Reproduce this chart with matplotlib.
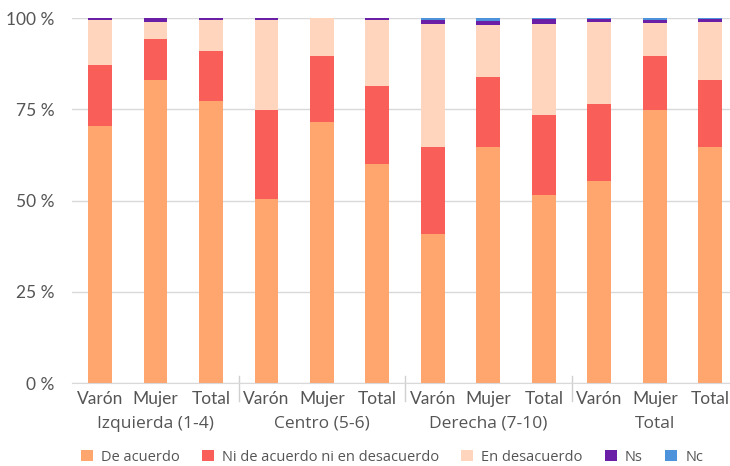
import matplotlib.pyplot as plt
import numpy as np

# datos (% por sexo dentro de cada grupo ideológico)
grupos = ["Izquierda (1-4)", "Centro (5-6)", "Derecha (7-10)", "Total"]
sexos = ["Varón", "Mujer", "Total"]

de_acuerdo = [70.4, 83.0, 77.3, 50.4, 71.5, 60.0, 40.8, 64.7, 51.5, 55.3, 74.8, 64.7]
ni_ni      = [16.7, 11.2, 13.7, 24.4, 18.1, 21.4, 23.9, 19.1, 21.9, 21.1, 14.8, 18.3]
ns         = [0.4, 1.1, 0.5, 0.4, 0.0, 0.4, 1.1, 1.2, 1.4, 0.8, 0.8, 0.8]
nc         = [0.0, 0.0, 0.0, 0.0, 0.0, 0.0, 0.4, 0.8, 0.3, 0.3, 0.4, 0.3]
en_desacuerdo = [100 - a - b - c - d for a, b, c, d in zip(de_acuerdo, ni_ni, ns, nc)]

series = [
    ("De acuerdo", de_acuerdo, "#FFA56E"),
    ("Ni de acuerdo ni en desacuerdo", ni_ni, "#F95F58"),
    ("En desacuerdo", en_desacuerdo, "#FFD6BD"),
    ("Ns", ns, "#6A1FA6"),
    ("Nc", nc, "#4C93DB"),
]

plt.rcParams['font.family'] = ['Lato', 'DejaVu Sans']
gris = "#555555"
humanista = ['Open Sans', 'DejaVu Sans']

fig = plt.figure(figsize=(7.3, 4.66), dpi=100)
ax = fig.add_axes([0.099, 0.178, 0.912, 0.783])

x = np.arange(len(de_acuerdo))
base = np.zeros(len(x))
for nombre, vals, color in series:
    ax.bar(x, vals, bottom=base, width=0.43, color=color, label=nombre, zorder=2)
    base += np.array(vals)

ax.set_xlim(-0.5, len(x) - 0.5)
ax.set_ylim(0, 100)
ax.set_yticks([0, 25, 50, 75, 100])
ax.set_yticklabels(["0 %", "25 %", "50 %", "75 %", "100 %"], color=gris, fontsize=12.5)
ax.yaxis.grid(True, color="#d9d9d9", linewidth=1, zorder=0)
ax.tick_params(axis="y", length=0, pad=13)
ax.tick_params(axis="x", length=0, pad=6)
ax.set_xticks(x)
ax.set_xticklabels(sexos * len(grupos), color=gris, fontsize=12.5)
for s in ["top", "right", "left"]:
    ax.spines[s].set_visible(False)
ax.spines["bottom"].set_color("#d9d9d9")

# nombre de cada grupo y separadores
trans = ax.get_xaxis_transform()
for i, g in enumerate(grupos):
    ax.text(3 * i + 1, -0.112, g, transform=trans, ha="center", va="center",
            color=gris, fontsize=12.5, family=humanista)
for sep in [2.5, 5.5, 8.5]:
    ax.plot([sep, sep], [0.02, -0.048], transform=trans, color="#d0d0d0",
            linewidth=1, clip_on=False)

leg = ax.legend(loc="center", bbox_to_anchor=(0.48, -0.203), ncol=5,
                frameon=False, prop={'family': humanista, 'size': 10.5},
                handlelength=0.85, handleheight=0.85,
                columnspacing=1.5, handletextpad=0.55, borderpad=0, borderaxespad=0)
for t in leg.get_texts():
    t.set_color(gris)

fig.savefig("out.png", dpi=100)
